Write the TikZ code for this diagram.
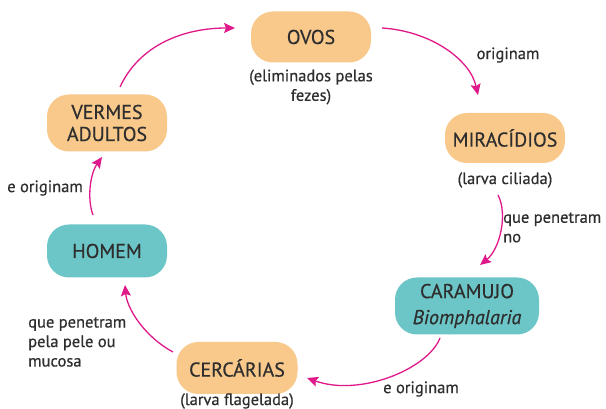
\documentclass[tikz,border=0pt]{standalone}
\usepackage{fontspec}
\setmainfont{PT Sans}[FakeBold=0.5]
\usetikzlibrary{arrows.meta}
\definecolor{peach}{HTML}{F9C98B}
\definecolor{tealbox}{HTML}{6CC6C8}
\definecolor{mag}{HTML}{E0198A}
\definecolor{txt}{HTML}{2E2E2E}
\tikzset{
  box/.style={rounded corners=22pt, minimum height=52pt, align=center,
    font=\fontsize{20}{22}\selectfont, text=txt, inner sep=0pt},
  obox/.style={box, fill=peach},
  tbox/.style={box, fill=tealbox},
  lbl/.style={font=\fontsize{16.5}{19.5}\selectfont, text=txt, inner sep=0pt},
  arr/.style={draw=mag, line width=1.3pt, -{Stealth[length=11pt,width=10pt,inset=2pt]}}
}
\begin{document}
\begin{tikzpicture}[x=1pt,y=1pt]
\path[use as bounding box, fill=white] (0,0) rectangle (606,409);
% boxes
\node[obox, minimum width=120pt, minimum height=51pt] (ovos) at (311,372) {OVOS};
\node[obox, minimum width=120pt, minimum height=50pt] (mira) at (505,271) {MIRACÍDIOS};
\node[tbox, minimum width=144pt, minimum height=57pt] (cara) at (467,103) {CARAMUJO\\[4pt]\textit{Biomphalaria}};
\node[obox, minimum width=121pt, minimum height=52pt] (cerc) at (237,41) {CERCÁRIAS};
\node[tbox, minimum width=120pt, minimum height=53pt] (homem) at (107,158) {HOMEM};
\node[obox, minimum width=120pt, minimum height=57pt] (vermes) at (107,286) {VERMES\\ADULTOS};
% labels
\node[lbl, align=center] (lovos) at (311,322) {(eliminados pelas\\fezes)};
\node[lbl] (l1) at (508,354) {originam};
\node[lbl] (lmira) at (505,229) {(larva ciliada)};
\node[lbl, align=left, anchor=west] (l2) at (503,181.5) {que penetram\\no};
\node[lbl] (l3) at (421,20) {e originam};
\node[lbl] (lcerc) at (237,8) {(larva flagelada)};
\node[lbl, align=left, anchor=west] (l4) at (28,67) {que penetram\\pela pele ou\\mucosa};
\node[lbl, anchor=east] (l5) at (83,221) {e originam};
% arrow ends
\coordinate (a1s) at (120,322); \coordinate (a1e) at (235,381);
\coordinate (a2s) at (382,381); \coordinate (a2e) at (478,314);
\coordinate (a3s) at (498,214); \coordinate (a3e) at (480,144);
\coordinate (a4s) at (440,71);  \coordinate (a4e) at (307,31);
\coordinate (a5s) at (173,57);  \coordinate (a5e) at (125,124);
\coordinate (a6s) at (93,194);  \coordinate (a6e) at (102,252);
% arrows
\draw[arr] (a1s) .. controls (140,365) and (185,381) .. (a1e);
\draw[arr] (a2s) .. controls (430,378) and (470,350) .. (a2e);
\draw[arr] (a3s) .. controls (508,195) and (500,160) .. (a3e);
\draw[arr] (a4s) .. controls (428,40) and (360,12) .. (a4e);
\draw[arr] (a5s) .. controls (145,72) and (127,100) .. (a5e);
\draw[arr] (a6s) .. controls (87,210) and (90,235) .. (a6e);
\end{tikzpicture}
\end{document}
